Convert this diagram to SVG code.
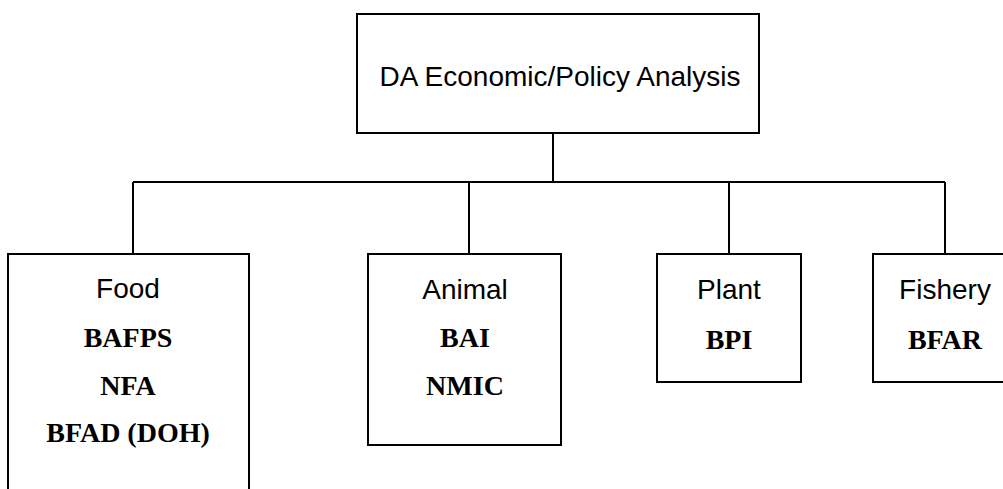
<svg xmlns="http://www.w3.org/2000/svg" width="1003" height="489" viewBox="0 0 1003 489">
<style>
.box{fill:#fff;stroke:#000;stroke-width:2}
.ln{fill:none;stroke:#000;stroke-width:2}
.t{font-family:"Liberation Sans",Arial,sans-serif;font-size:28px;text-anchor:middle;fill:#000}
.b{font-family:"Liberation Serif","Times New Roman",serif;font-size:28px;font-weight:bold;text-anchor:middle;fill:#000}
</style>
<rect width="1003" height="489" fill="#fff"/>
<g id="connectors">
<path class="ln" d="M553 133V182M133 182H945M133 182V254M469 182V254M729 182V254M945 182V254"/>
</g>
<g id="top">
<rect class="box" x="357" y="14" width="402" height="119"/>
<text class="t" x="560" y="86">DA Economic/Policy Analysis</text>
</g>
<g id="food">
<rect class="box" x="8" y="254" width="241" height="260"/>
<text class="t" x="128" y="298">Food</text>
<text class="b" x="128" y="347">BAFPS</text>
<text class="b" x="128" y="395">NFA</text>
<text class="b" x="128" y="442">BFAD (DOH)</text>
</g>
<g id="animal">
<rect class="box" x="368" y="254" width="193" height="191"/>
<text class="t" x="465" y="299">Animal</text>
<text class="b" x="465" y="347">BAI</text>
<text class="b" x="465" y="395">NMIC</text>
</g>
<g id="plant">
<rect class="box" x="657" y="254" width="144" height="128"/>
<text class="t" x="729" y="299">Plant</text>
<text class="b" x="729" y="349">BPI</text>
</g>
<g id="fishery">
<rect class="box" x="873" y="254" width="144" height="128"/>
<text class="t" x="945" y="299">Fishery</text>
<text class="b" x="945" y="349">BFAR</text>
</g>
</svg>
